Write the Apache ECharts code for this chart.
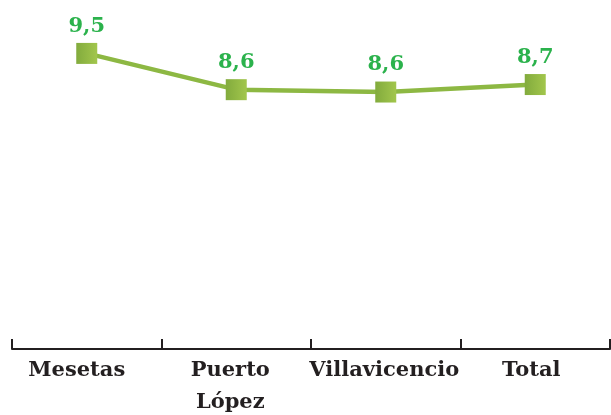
<!DOCTYPE html>
<html><head><meta charset="utf-8">
<script src="https://cdn.jsdelivr.net/npm/echarts@6/dist/echarts.min.js"></script>
<style>html,body{margin:0;padding:0;background:#fff}#c{width:611px;height:415px}</style>
</head><body><div id="c"></div>
<script>
const categories = ['Mesetas', 'Puerto\nLópez', 'Villavicencio', 'Total'];
const values = [9.5, 8.58, 8.52, 8.71];
const valueLabels = ['9,5', '8,6', '8,6', '8,7'];

// small leftward nudges of the category labels, as in the reference
const labelShiftLeft = [20, 12, 3, 8];

const chart = echarts.init(document.getElementById('c'), null, {renderer: 'canvas'});
chart.setOption({
  animation: false,
  grid: {left: 12, right: 1, top: 14, height: 335, containLabel: false, outerBoundsMode: 'none'},
  xAxis: {
    type: 'category',
    data: categories.map((c, i) => ({value: c, textStyle: {padding: [0, labelShiftLeft[i], 0, 0]}})),
    boundaryGap: true,
    axisLine: {show: true, lineStyle: {color: '#231f20', width: 2}},
    axisTick: {show: true, inside: true, length: 10, interval: 0, lineStyle: {color: '#231f20', width: 2}},
    axisLabel: {color: '#231f20', fontFamily: 'DejaVu Serif', fontWeight: 'bold', fontSize: 21,
      lineHeight: 32, margin: 6, interval: 0}
  },
  yAxis: {type: 'value', min: 2, max: 10.5, show: false, splitLine: {show: false}},
  series: [{
    type: 'line', data: values,
    symbol: 'rect', symbolSize: 21,
    lineStyle: {color: '#8db843', width: 4.5},
    itemStyle: {color: new echarts.graphic.LinearGradient(0, 0, 1, 0, [
      {offset: 0, color: '#82ab3d'}, {offset: 1, color: '#a2c64c'}])},
    label: {show: true, position: 'top', distance: 6, color: '#2bb24c',
      fontFamily: 'DejaVu Serif', fontWeight: 'bold', fontSize: 21,
      formatter: p => valueLabels[p.dataIndex]}
  }]
});
</script></body></html>
